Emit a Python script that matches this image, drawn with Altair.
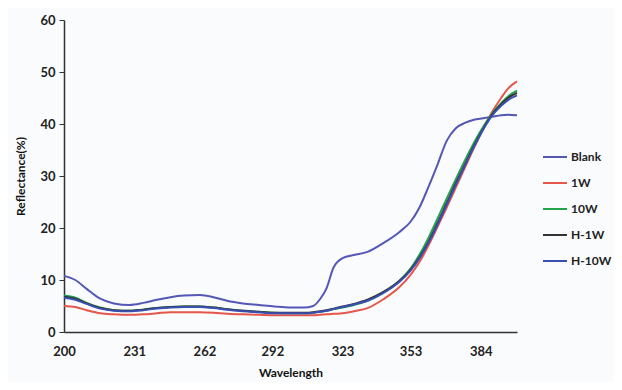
import altair as alt
import pandas as pd

wavelength = [200, 205, 210, 216, 222, 229, 235, 241, 247, 253, 260, 266, 272, 279, 286, 293, 300, 306,
              310, 313, 316, 319, 323, 328, 334, 341, 348, 353, 357, 361, 365, 369, 373, 377, 381, 385,
              389, 393, 396, 400]

blank = [10.8, 10.0, 8.3, 6.4, 5.5, 5.2, 5.6, 6.2, 6.7, 7.0, 7.1, 6.7, 6.0, 5.5, 5.2, 4.9, 4.7, 4.7,
         5.0, 6.3, 8.5, 12.4, 14.2, 14.8, 15.4, 17.1, 19.2, 21.2, 24.0, 28.0, 32.3, 36.8, 39.2, 40.2,
         40.8, 41.1, 41.4, 41.7, 41.8, 41.7]
w1 = [5.0, 4.8, 4.2, 3.6, 3.4, 3.3, 3.4, 3.6, 3.8, 3.8, 3.8, 3.7, 3.5, 3.4, 3.3, 3.2, 3.2, 3.2,
      3.2, 3.3, 3.4, 3.5, 3.6, 4.0, 4.6, 6.3, 8.6, 11.0, 13.5, 16.7, 20.3, 24.0, 27.8, 31.6,
      35.4, 39.0, 42.3, 45.0, 46.8, 48.2]
w10 = [7.0, 6.6, 5.6, 4.7, 4.2, 4.1, 4.3, 4.6, 4.8, 4.9, 4.9, 4.7, 4.4, 4.1, 3.9, 3.7, 3.6, 3.6,
       3.7, 3.9, 4.1, 4.4, 4.7, 5.2, 6.0, 7.5, 9.8, 12.2, 14.9, 18.2, 21.9, 25.7, 29.4, 33.0,
       36.4, 39.4, 42.0, 44.0, 45.3, 46.4]
h1w = [6.8, 6.4, 5.5, 4.6, 4.2, 4.1, 4.3, 4.6, 4.8, 4.9, 4.9, 4.7, 4.4, 4.1, 3.9, 3.7, 3.7, 3.7,
       3.8, 4.0, 4.2, 4.5, 4.9, 5.4, 6.2, 7.7, 9.8, 12.0, 14.4, 17.4, 21.0, 24.8, 28.6, 32.2,
       35.8, 39.0, 41.8, 43.8, 45.0, 46.0]
h10w = [6.6, 6.2, 5.4, 4.5, 4.1, 4.0, 4.2, 4.5, 4.7, 4.8, 4.8, 4.6, 4.3, 4.0, 3.8, 3.6, 3.6, 3.6,
        3.7, 3.9, 4.1, 4.4, 4.8, 5.3, 6.0, 7.5, 9.6, 11.8, 14.2, 17.2, 20.7, 24.5, 28.3, 32.0,
        35.6, 38.9, 41.6, 43.5, 44.6, 45.5]

series_names = ["Blank", "1W", "10W", "H-1W", "H-10W"]
series_colors = ["#5458b4", "#e5564b", "#23a34c", "#333333", "#3b4fb2"]
x_ticks = [200, 231, 262, 292, 323, 353, 384]

rows = []
for name, vals in zip(series_names, [blank, w1, w10, h1w, h10w]):
    for w, v in zip(wavelength, vals):
        rows.append({"Wavelength": w, "Reflectance": v, "Series": name})
df = pd.DataFrame(rows)

font = "Lato"

chart = alt.Chart(df).mark_line(strokeWidth=2, interpolate="monotone").encode(
    x=alt.X("Wavelength:Q",
            scale=alt.Scale(domain=[200, 400], nice=False, zero=False),
            axis=alt.Axis(values=x_ticks, title="Wavelength", grid=False, ticks=False,
                          labelPadding=13, titlePadding=9, labelFlush=False)),
    y=alt.Y("Reflectance:Q",
            scale=alt.Scale(domain=[0, 60], nice=False),
            axis=alt.Axis(values=[0, 10, 20, 30, 40, 50, 60], title="Reflectance(%)", grid=False,
                          tickSize=5, labelPadding=4, titlePadding=12)),
    color=alt.Color("Series:N",
                    scale=alt.Scale(domain=series_names, range=series_colors),
                    sort=series_names,
                    legend=alt.Legend(title=None, orient="none", legendX=478, legendY=124,
                                      symbolType="stroke", symbolSize=576, symbolStrokeWidth=2,
                                      rowPadding=7, labelFontSize=12, labelFont=font,
                                      labelFontWeight="bold", labelColor="#222222",
                                      labelOffset=3)),
    order=alt.Order("order:Q"),
).transform_calculate(
    order="indexof(['H-10W','1W','10W','H-1W','Blank'], datum.Series)"
).properties(
    width=453, height=312,
    padding={"left": 56, "top": 12, "right": 97, "bottom": 50},
    autosize="none",
    background="#fafbfd",
).configure_view(
    stroke=None
).configure_axis(
    domainColor="#333333", domainWidth=1.5, tickColor="#333333",
    labelFont=font, labelFontSize=13, labelFontWeight="bold", labelColor="#222222",
    titleFont=font, titleFontSize=12, titleFontWeight="bold", titleColor="#111111",
)

chart.save("out.html", embed_options={"renderer": "svg", "actions": False})
